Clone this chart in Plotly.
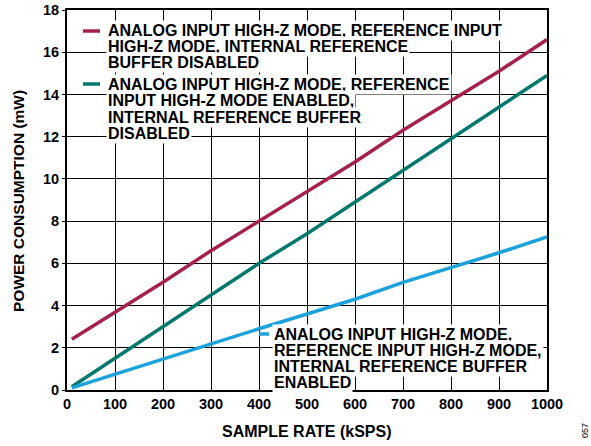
import plotly.graph_objects as go

sample_rate = [10, 100, 200, 300, 400, 500, 600, 700, 800, 900, 1000]
red_mw = [2.4, 3.7, 5.1, 6.6, 8.0, 9.4, 10.8, 12.3, 13.7, 15.1, 16.6]
teal_mw = [0.15, 1.5, 3.0, 4.5, 6.0, 7.4, 8.9, 10.4, 11.9, 13.4, 14.9]
blue_mw = [0.1, 0.75, 1.45, 2.2, 2.9, 3.6, 4.3, 5.1, 5.8, 6.5, 7.25]

x_ticks = [0, 100, 200, 300, 400, 500, 600, 700, 800, 900, 1000]
y_ticks = [0, 2, 4, 6, 8, 10, 12, 14, 16, 18]

RED = "#A5214B"
TEAL = "#00786C"
BLUE = "#1BA1DB"

red_text = ["ANALOG INPUT HIGH-Z MODE, REFERENCE INPUT",
            "HIGH-Z MODE, INTERNAL REFERENCE",
            "BUFFER DISABLED"]
teal_text = ["ANALOG INPUT HIGH-Z MODE, REFERENCE",
             "INPUT HIGH-Z MODE ENABLED,",
             "INTERNAL REFERENCE BUFFER",
             "DISABLED"]
blue_text = ["ANALOG INPUT HIGH-Z MODE,",
             "REFERENCE INPUT HIGH-Z MODE,",
             "INTERNAL REFERENCE BUFFER",
             "ENABLED"]

FONT = "Liberation Sans, Arial, sans-serif"

W, H = 591, 446
L, R, T, B = 67, 547, 10, 390

def px2paper(px, py):
    return (px - L) / (R - L), (B - py) / (B - T)

fig = go.Figure()
for y, c in [(red_mw, RED), (teal_mw, TEAL), (blue_mw, BLUE)]:
    fig.add_trace(go.Scatter(x=sample_rate, y=y, mode="lines",
                             line=dict(color=c, width=3.5), showlegend=False,
                             hoverinfo="skip"))

annotations = []
shapes = []

def block(lines, color, tx, ty0, dy, sw_x0, sw_x1):
    for i, t in enumerate(lines):
        xp, yp = px2paper(tx, ty0 + i * dy)
        annotations.append(dict(x=xp, y=yp, xref="paper", yref="paper",
                                text=t, showarrow=False, xanchor="left",
                                yanchor="middle", bgcolor="white", borderpad=1,
                                font=dict(family=FONT, size=16, color="black", weight=700)))
    x0, y0 = px2paper(sw_x0, ty0)
    x1, _ = px2paper(sw_x1, ty0)
    shapes.append(dict(type="line", xref="paper", yref="paper", x0=x0, x1=x1,
                       y0=y0, y1=y0, line=dict(color=color, width=3.5), layer="above"))

block(red_text, RED, 106, 31, 16, 83, 100)
block(teal_text, TEAL, 106, 84, 16.5, 83, 100)
block(blue_text, BLUE, 272, 334, 16.2, 259, 269)

xa, ya = px2paper(585, 431)
xt, yt = px2paper((L + R) / 2, 432)
xy, yy = px2paper(18, 201)
annotations += [
    dict(x=xa, y=ya, xref="paper", yref="paper", text="057", showarrow=False,
         textangle=-90, xanchor="center", yanchor="middle",
         font=dict(family=FONT, size=9, weight=400)),
    dict(x=xt, y=yt, xref="paper", yref="paper", text="SAMPLE RATE (kSPS)",
         showarrow=False, xanchor="center", yanchor="middle",
         font=dict(family=FONT, size=16, weight=700)),
    dict(x=xy, y=yy, xref="paper", yref="paper", text="POWER CONSUMPTION (mW)",
         showarrow=False, textangle=-90, xanchor="center", yanchor="middle",
         font=dict(family=FONT, size=15.5, weight=700)),
]

fig.update_layout(
    width=W, height=H,
    margin=dict(l=L, r=W - R, t=T, b=H - B),
    plot_bgcolor="white", paper_bgcolor="white",
    font=dict(family=FONT, size=13, color="black", weight=700),
    annotations=annotations,
    shapes=shapes,
    hovermode=False,
    xaxis=dict(range=[0, 1000], tickvals=x_ticks, showgrid=True, gridcolor="black",
               gridwidth=1.3, showline=True, linecolor="black", linewidth=2,
               mirror=True, ticks="", zeroline=False, automargin=False,
               tickfont=dict(size=14.5, weight=700)),
    yaxis=dict(range=[0, 18], tickvals=y_ticks, showgrid=True, gridcolor="black",
               gridwidth=1.3, showline=True, linecolor="black", linewidth=2,
               mirror=True, ticks="outside", ticklen=3, tickcolor="black", tickwidth=1.3,
               zeroline=False, automargin=False,
               tickfont=dict(size=14.5, weight=700)),
)

fig.write_html("out.html", config={"displayModeBar": False},
               post_script="document.body.style.margin='0';document.body.style.overflow='hidden';")
